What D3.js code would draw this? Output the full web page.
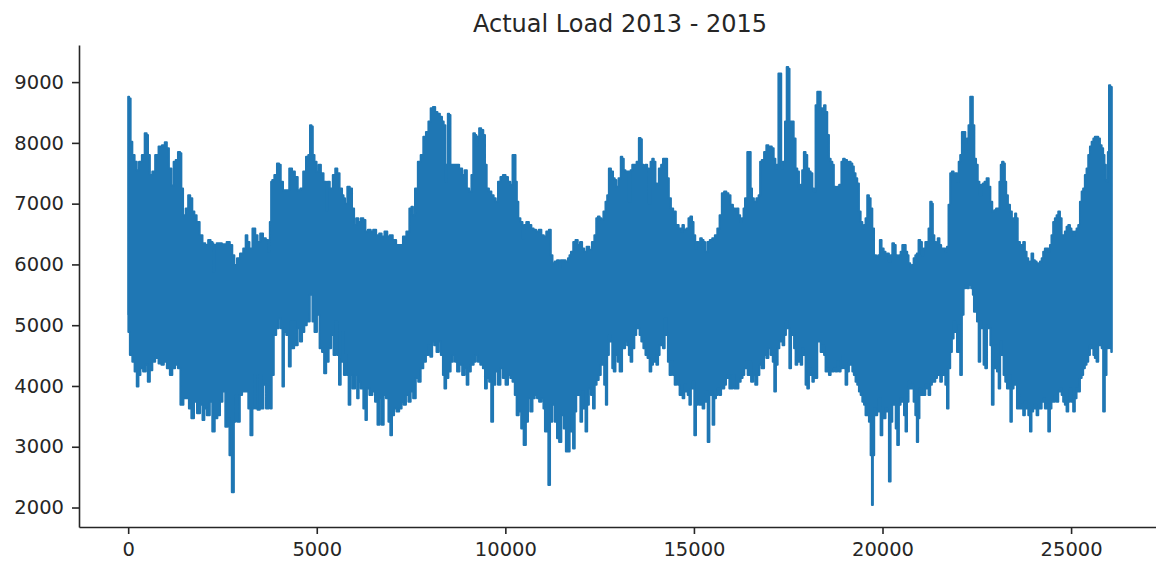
<!DOCTYPE html>
<html>
<head>
<meta charset="utf-8">
<script src="https://cdn.jsdelivr.net/npm/d3@7"></script>
<style>
  html, body { margin: 0; padding: 0; background: #ffffff; }
  svg { display: block; }
  text { font-family: "DejaVu Sans", sans-serif; fill: #262626; }
</style>
</head>
<body>
<svg id="chart" width="1156" height="566"></svg>
<script>
const chartTitle = "Actual Load 2013 - 2015";

// Hourly load (MW): upper envelope of the daily swings, as [hour index, load]
const upperLoad = [
  [0,8760],[50,8730],[80,8020],[140,7800],[200,7690],[255,7550],[320,7690],[405,7800],[470,8160],[510,8130],
  [540,7800],[610,7470],[670,7530],[760,7800],[850,7940],[940,7960],[1000,8010],[1050,7910],[1110,7580],[1180,7300],
  [1230,7690],[1290,7720],[1350,7850],[1400,7830],[1420,7250],[1490,6810],[1560,6920],[1620,7140],[1670,7090],[1730,6870],
  [1780,6810],[1850,6700],[1940,6480],[2000,6350],[2090,6320],[2150,6400],[2220,6370],[2250,6350],[2270,5880],[2290,6320],
  [2400,6350],[2570,6330],[2650,6370],
  [2740,6320],[2780,6150],[2850,5990],[2920,6100],[3010,6180],[3090,6260],[3140,6480],[3180,6370],[3250,6260],[3340,6590],
  [3400,6480],[3460,6370],[3540,6510],[3610,6430],[3690,6400],[3730,6210],[3780,6700],[3800,7360],[3840,7390],[3910,7470],
  [3980,7660],[4020,7640],[4070,7360],[4140,7220],[4230,7220],[4310,7580],[4380,7530],[4460,7440],[4530,7220],[4600,7250],
  [4680,7530],[4750,7770],[4800,7800],[4840,8290],[4880,8270],[4910,7800],[4970,7690],[5020,7530],[5080,7640],[5140,7500],
  [5220,7360],[5280,6890],[5300,7360],[5390,7250],[5460,7470],[5520,7580],[5570,7500],[5640,7250],[5700,7140],
  [5720,7090],[5780,7000],[5840,7280],[5910,7250],[5960,6920],[6020,6650],[6070,6760],[6130,6700],[6200,6760],[6270,6730],
  [6310,6540],[6400,6570],[6460,6540],[6530,6570],[6620,6480],[6690,6510],[6750,6460],[6840,6540],[6900,6460],[6970,6480],
  [7060,6400],[7150,6320],[7240,6320],[7330,6460],[7420,6540],[7490,6920],[7530,6950],[7570,6810],[7640,7250],[7720,7690],
  [7790,7800],[7860,8100],[7930,8180],[7990,8350],[8050,8570],[8110,8590],[8170,8510],[8230,8480],[8300,8430],[8340,8350],
  [8390,8290],[8430,7360],[8460,7640],[8490,8480],[8530,8460],[8560,7640],[8650,7640],
  [8730,7640],[8820,7580],[8890,7470],[8950,7550],[9010,7250],[9070,7200],[9130,7470],[9170,8160],[9220,8130],[9240,7960],
  [9280,8100],[9330,8240],[9390,8210],[9440,8130],[9480,7640],[9530,7250],[9600,7200],[9660,7140],[9720,7090],[9770,7030],
  [9840,7360],[9900,7440],[9970,7470],[10040,7440],[10100,7360],[10160,7310],[10220,7800],[10250,7800],[10290,7360],[10320,7030],
  [10370,6760],[10430,6700],[10480,6430],[10520,6650],[10590,6700],[10660,6650],[10720,6590],[10780,6570],[10850,6540],[10920,6570],
  [10990,6480],[11050,6460],[11120,6540],[11190,6570],[11220,6150],[11280,6020],[11340,6050],[11400,6070],[11450,5940],[11490,6070],
  [11560,6070],[11630,6050],[11690,6100],
  [11710,6150],[11770,6210],[11830,6370],[11890,6400],[11950,6320],[12010,6370],[12060,6260],[12120,6210],[12190,6290],[12260,6240],
  [12330,6370],[12390,6480],[12430,6760],[12480,6790],[12520,6760],[12570,6730],[12630,6870],[12680,7030],[12720,7140],[12770,7580],
  [12830,7530],[12880,7420],[12920,7390],[12960,7280],[13040,7420],[13080,7770],[13120,7740],[13160,7550],[13210,7530],[13250,7530],
  [13300,7030],[13340,7550],[13390,7640],[13450,7640],[13510,7690],[13570,8080],[13600,8060],[13640,7640],[13690,7610],[13740,7640],
  [13780,7580],[13830,7000],[13870,7690],[13920,7740],[13950,7690],[14010,7330],[14040,7310],[14100,7580],[14160,7640],[14200,7740],
  [14270,7740],[14310,7420],[14360,7090],[14420,6920],[14480,6870],[14560,6650],[14630,6590],[14690,6540],
  [14700,6650],[14770,6570],[14830,6590],[14880,6760],[14930,6790],[14970,6700],[15010,6480],[15060,6260],[15090,6370],[15150,6320],
  [15180,6430],[15240,6400],[15270,6370],[15320,6210],[15390,6370],[15450,6400],[15520,6430],[15590,6480],[15650,6590],[15710,6810],
  [15770,7170],[15830,7200],[15890,7170],[15940,7140],[16000,6980],[16070,6920],[16120,6890],[16150,6920],[16210,6810],[16240,6700],
  [16300,6760],[16330,6920],[16380,7090],[16450,7850],[16490,7850],[16520,7250],[16560,7090],[16620,7030],[16690,7090],[16740,7140],
  [16770,7690],[16830,7720],[16890,7850],[16950,7960],[17000,7850],[17040,7940],[17090,7910],[17140,7740],[17180,7580],[17220,7640],
  [17260,9140],[17300,9140],[17330,7580],[17390,7690],[17440,8350],[17480,9250],[17520,9220],[17550,8350],[17620,8350],
  [17670,8070],[17720,7580],[17760,7530],[17810,7250],[17850,7310],[17890,7550],[17940,7850],[17980,7800],[18030,7580],[18070,7530],
  [18120,7500],[18160,7250],[18200,7200],[18250,8620],[18290,8840],[18340,8840],[18380,8570],[18430,8480],[18470,8620],[18510,8510],
  [18560,8130],[18600,7740],[18650,7690],[18690,7640],[18730,7280],[18780,7250],[18820,7280],[18880,7310],[18940,7690],[18970,7740],
  [19030,7720],[19090,7640],[19130,7690],[19180,7660],[19220,7610],[19260,7500],[19310,7420],[19350,7330],[19400,6870],[19440,6700],
  [19490,6590],[19530,6650],[19570,6760],[19620,7140],[19660,7090],[19710,6920],[19750,6590],[19800,6150],[19860,6130],[19910,6150],
  [19950,6400],[20000,6260],[20060,6210],[20100,6150],[20150,6180],[20190,6050],[20240,6150],[20280,6350],[20330,6320],[20370,6150],
  [20410,6130],[20460,6150],[20500,6210],[20550,6320],[20590,6320],[20640,6210],
  [20670,6150],[20710,6020],[20760,5940],[20800,5990],[20850,6100],[20890,6150],[20930,6180],[20980,6400],[21020,6370],[21070,6150],
  [21110,6260],[21160,6370],[21200,6370],[21240,6590],[21290,7030],[21320,7000],[21350,6480],[21400,6370],[21440,6320],[21490,6430],
  [21530,6320],[21580,6260],[21640,6260],[21690,6210],[21730,6290],[21770,6980],[21820,7500],[21860,7530],[21910,7470],[21950,7500],
  [22000,7360],[22040,7690],[22080,7800],[22130,8180],[22170,8180],[22220,7850],[22260,8070],[22300,8290],[22350,8760],[22380,8760],
  [22410,8290],[22460,7740],[22500,7640],[22550,7360],[22590,7140],[22640,7310],[22680,7330],[22730,7360],[22790,7420],[22840,7280],
  [22880,7030],[22940,6870],[22990,6890],[23030,6920],[23080,6920],[23120,7360],[23150,7640],[23190,7690],[23230,7660],[23260,7360],
  [23300,7140],[23350,6980],[23410,6870],[23450,6700],[23500,6760],[23530,6840],[23560,6760],[23610,6370],[23680,6320],
  [23710,6290],[23750,6370],[23800,6210],[23840,6100],[23890,6020],[23930,6050],[23970,6180],[24020,6070],[24060,6050],[24110,6020],
  [24150,5990],[24200,6050],[24240,6100],[24280,6210],[24330,6260],[24370,6260],[24420,6210],[24460,6320],[24500,6480],[24550,6700],
  [24590,6760],[24640,6810],[24680,6870],[24730,6760],[24770,6480],[24810,6480],[24860,6540],[24900,6620],[24950,6650],[24990,6590],
  [25030,6540],[25080,6480],[25120,6540],[25170,6590],[25210,6650],[25260,7030],[25300,7200],[25340,7250],[25390,7470],[25430,7580],
  [25480,7800],[25520,7940],[25570,8020],[25610,8070],[25650,8100],[25700,8100],[25740,8070],[25790,7960],[25830,7910],[25870,7800],
  [25900,7640],[25940,7390],[25960,7360],[25990,7850],[26020,8950],[26060,8920],[26080,8920]
];

// Hourly load (MW): lower envelope of the daily swings, as [hour index, load]
const lowerLoad = [
  [0,5170],[10,4890],[80,4510],[140,4400],[200,4240],[255,3990],[290,4180],[360,4290],[430,4240],[500,4350],
  [540,4070],[610,4260],[670,4400],[760,4460],[850,4370],[910,4350],[980,4400],[1070,4290],[1140,4180],[1200,4290],
  [1290,4350],[1350,4290],[1420,3690],[1510,3800],[1580,3800],[1640,3630],[1710,3470],[1780,3740],[1870,3550],[1940,3690],
  [2000,3440],[2040,3630],[2130,3520],[2200,3740],[2260,3250],[2330,3470],[2400,3520],[2470,3740],[2530,3910],[2620,3330],
  [2650,3470],[2720,2860],[2775,2250],[2830,3410],[2870,3850],[2930,3410],[2990,3850],[3050,3910],[3110,3910],[3160,3910],
  [3210,3630],[3270,3190],[3320,3630],[3360,4180],[3400,3630],[3460,3610],[3520,4180],[3550,3630],[3620,4020],[3690,3630],
  [3760,3990],[3780,3630],[3830,4180],[3890,4840],[3960,4950],[4020,5110],[4070,4950],[4110,3990],[4150,4890],[4230,4840],
  [4290,4320],[4330,5060],[4380,4620],[4420,5060],[4460,4670],[4530,4950],[4580,4730],[4640,4890],[4700,5000],[4770,5060],
  [4860,5500],[4910,5060],[4970,4890],[5040,5170],[5110,4620],[5170,4560],[5220,4210],[5280,4400],[5350,4620],[5410,4840],
  [5480,4510],[5520,5060],[5570,4510],[5610,4020],[5660,4400],[5700,4890],
  [5740,4180],[5780,4510],[5820,4180],[5870,3690],[5910,4180],[5980,3960],[6050,4180],[6090,3800],[6130,4070],[6200,3960],
  [6270,3630],[6310,3440],[6350,3960],[6440,3850],[6510,3910],[6580,3740],[6640,3360],[6690,3800],[6750,3360],[6800,3850],
  [6870,3800],[6930,3410],[6970,3190],[7020,3520],[7080,3630],[7150,3580],[7220,3630],[7280,3740],[7330,3690],[7400,3850],
  [7460,3740],[7520,3910],[7590,3800],[7660,4130],[7720,4070],[7790,4290],[7860,4400],[7930,4510],[7990,4670],[8030,4480],
  [8090,4730],[8140,4670],[8210,4560],[8260,4730],[8320,4510],[8370,4180],[8400,3960],[8460,4130],[8520,4240],[8580,4400],
  [8640,4510],
  [8690,4400],[8750,4240],[8820,4350],[8890,4180],[8950,4290],[9000,4020],[9040,4240],[9130,4350],[9190,4400],[9240,4510],
  [9300,4400],[9370,4350],[9440,4290],[9480,3960],[9540,4130],[9600,4070],[9650,3410],[9700,4020],[9770,4240],[9840,4020],
  [9900,4290],[9970,4130],[10040,4020],[10100,4180],[10160,4130],[10220,4070],[10280,3850],[10320,3520],[10390,3580],[10450,3300],
  [10520,3030],[10570,3410],[10630,3800],[10690,3580],[10750,3800],[10810,3850],[10870,3800],[10920,3740],[10990,3800],[11030,3630],
  [11070,3250],[11120,3690],[11160,2370],[11210,3410],[11280,3690],[11340,3410],[11400,3140],[11450,3080],[11520,3520],[11580,3300],
  [11630,2920],
  [11680,2920],[11730,3250],[11770,3520],[11820,2970],[11860,3580],[11900,3850],[11970,3850],[12010,3410],[12060,3910],[12100,3630],
  [12150,3250],[12190,3690],[12240,3960],[12300,3850],[12350,3630],[12390,4020],[12450,4100],[12500,4180],[12560,4350],[12590,4460],
  [12650,4020],[12680,3690],[12720,4510],[12770,4840],[12810,4730],[12860,4290],[12890,4240],[12950,4510],[13010,4400],[13050,4240],
  [13140,4620],[13210,4730],[13250,4670],[13300,4510],[13340,4400],[13390,4620],[13450,4840],[13490,5000],[13540,4950],[13580,4840],
  [13630,4730],[13690,4620],[13740,4510],[13800,4460],[13850,4240],[13890,4350],[13940,4560],[13980,4400],[14030,4350],[14070,4510],
  [14110,4670],[14160,4780],[14200,4620],[14250,5110],[14290,4840],[14330,4400],[14380,4180],[14420,4400],[14470,4180],[14510,4020],
  [14560,4180],[14600,4020],[14640,3850],
  [14680,3910],[14720,3800],[14770,4020],[14810,3910],[14860,3850],[14900,3690],[14940,3960],[14990,4070],[15030,3190],[15080,3690],
  [15120,3740],[15160,3690],[15210,3690],[15250,3630],[15300,3740],[15340,3910],[15390,3080],[15430,3850],[15470,3910],[15520,3360],
  [15560,3800],[15610,3850],[15650,3960],[15700,3850],[15740,4070],[15780,3960],[15830,4020],[15870,4130],[15920,4180],[15960,3960],
  [16000,3960],[16050,4180],[16090,3960],[16150,3960],[16210,4070],[16270,4130],[16310,4180],[16360,4290],[16400,4400],[16450,4180],
  [16490,4400],[16540,4070],[16600,4180],[16650,4020],[16710,4180],[16760,4350],[16830,4290],[16890,4510],[16950,4460],[17000,4620],
  [17070,4510],[17110,4400],[17150,3910],[17200,4350],[17240,4620],[17290,4730],[17330,4840],[17370,4670],[17420,4840],[17460,5060],
  [17510,4950],[17550,4290],[17600,4840],[17640,4890],
  [17670,4620],[17720,4350],[17760,4510],[17810,4400],[17850,4350],[17890,4620],[17940,4510],[17980,4020],[18030,3960],[18070,4290],
  [18120,4180],[18160,4070],[18200,4180],[18250,4130],[18290,4730],[18340,4730],[18380,4560],[18430,4670],[18470,4510],[18510,4240],
  [18560,4290],[18600,4180],[18650,4240],[18690,4240],[18730,4290],[18780,4240],[18820,4400],[18870,4240],[18910,4290],[18960,4510],
  [19000,4290],[19040,4020],[19090,4240],[19130,4400],[19180,4350],[19220,4240],[19260,4180],[19310,4070],[19350,4020],[19400,3910],
  [19440,3850],[19490,3740],[19530,3690],[19570,3520],[19620,3690],[19660,3410],[19710,2860],[19730,2040],[19760,2860],[19800,3630],
  [19840,3520],[19880,3580],[19930,3800],[19970,3190],[20020,3520],[20060,3470],[20100,3630],[20150,3580],[20190,2430],[20240,3410],
  [20280,3690],[20330,3740],[20370,3300],[20410,3030],[20460,3690],[20500,3800],[20550,3740],[20590,3520],[20630,3250],
  [20670,3740],[20710,4070],[20760,3960],[20800,4020],[20850,3740],[20890,3520],[20930,3080],[20960,3470],[21000,3960],[21050,3850],
  [21110,3850],[21160,4020],[21200,3960],[21240,3850],[21290,4020],[21330,4180],[21380,4070],[21420,4130],[21470,4240],[21510,4180],
  [21550,4070],[21600,4240],[21640,4180],[21690,4020],[21730,3630],[21770,4290],[21820,4560],[21860,4780],[21910,5060],[21950,4890],
  [22000,4560],[22040,5000],[22080,4180],[22130,5170],[22170,5610],[22220,5660],[22260,5610],[22320,5660],[22380,5610],[22410,5500],
  [22440,5220],[22480,5280],[22530,5060],[22570,4400],[22610,5060],[22660,4950],[22700,4350],[22750,4290],[22790,5000],[22840,4950],
  [22880,4670],[22920,3690],[22970,4290],[23010,4670],[23060,4240],[23100,3960],[23140,4730],[23190,4510],[23230,4180],[23280,4070],
  [23320,3960],[23370,4180],[23410,3410],[23450,3960],[23500,4070],[23540,4020],[23590,3630],[23630,3850],
  [23660,3630],[23710,3690],[23750,3520],[23800,3740],[23840,3630],[23890,3520],[23930,3250],[23970,3580],[24020,3630],[24060,3690],
  [24110,3520],[24150,3630],[24200,3630],[24240,3740],[24280,3800],[24330,3630],[24370,3690],[24420,3250],[24460,3630],[24500,3740],
  [24550,3740],[24590,3850],[24640,3740],[24680,3910],[24730,3960],[24770,3850],[24810,3740],[24860,3690],[24900,3580],[24950,3740],
  [24990,3960],[25030,3740],[25080,3580],[25120,3800],[25170,3960],[25210,3910],[25260,4130],[25300,4180],[25340,4290],[25390,4350],
  [25430,4400],[25480,4510],[25520,4670],[25570,4620],[25610,4510],[25650,4460],[25700,4400],[25740,4670],[25790,4730],[25830,4620],
  [25870,3580],[25920,4180],[25960,4620],[26010,4670],[26050,4620],[26080,4560]
];

const xTicks = [0, 5000, 10000, 15000, 20000, 25000];
const yTicks = [2000, 3000, 4000, 5000, 6000, 7000, 8000, 9000];

const svg = d3.select("#chart");
const plot = { left: 79, right: 1161, top: 45, bottom: 527 };

// Axis limits padded by 5% of the data range on each side
const allPoints = upperLoad.concat(lowerLoad);
const [xMin, xMax] = d3.extent(allPoints, d => d[0]);
const [yMin, yMax] = d3.extent(allPoints, d => d[1]);
const xPad = (xMax - xMin) * 0.05;
const yPad = (yMax - yMin) * 0.05;

const x = d3.scaleLinear().domain([xMin - xPad, xMax + xPad]).range([plot.left, plot.right]);
const y = d3.scaleLinear().domain([yMin - yPad, yMax + yPad]).range([plot.bottom, plot.top]);

// Band of hourly readings: upper envelope left to right, lower envelope back
const upperSorted = d3.sort(upperLoad, d => d[0]);
const lowerSorted = d3.sort(lowerLoad, d => d[0]);
const outline = upperSorted.concat(lowerSorted.slice().reverse());

const line = d3.line()
  .x(d => x(d[0]))
  .y(d => y(d[1]))
  .curve(d3.curveStep);

svg.append("path")
  .attr("d", line(outline) + "Z")
  .attr("fill", "#1f77b4")
  .attr("stroke", "#1f77b4")
  .attr("stroke-width", 2)
  .attr("stroke-linejoin", "round");

// Axes (left and bottom spines only)
const tickFont = "19.5px";

const xAxis = svg.append("g")
  .attr("transform", `translate(0,${plot.bottom})`)
  .call(d3.axisBottom(x).tickValues(xTicks).tickFormat(d3.format("d"))
    .tickSize(7).tickSizeOuter(0).tickPadding(8));

const yAxis = svg.append("g")
  .attr("transform", `translate(${plot.left},0)`)
  .call(d3.axisLeft(y).tickValues(yTicks).tickFormat(d3.format("d"))
    .tickSize(7).tickSizeOuter(0).tickPadding(8));

[xAxis, yAxis].forEach(g => {
  g.select(".domain").attr("stroke", "#262626").attr("stroke-width", 1.6);
  g.selectAll(".tick line").attr("stroke", "#262626").attr("stroke-width", 1.6);
  g.selectAll(".tick text")
    .attr("fill", "#262626")
    .style("font-family", "'DejaVu Sans', sans-serif")
    .style("font-size", tickFont);
});

svg.append("text")
  .attr("x", (plot.left + plot.right) / 2)
  .attr("y", 32)
  .attr("text-anchor", "middle")
  .style("font-size", "24px")
  .text(chartTitle);
</script>
</body>
</html>
